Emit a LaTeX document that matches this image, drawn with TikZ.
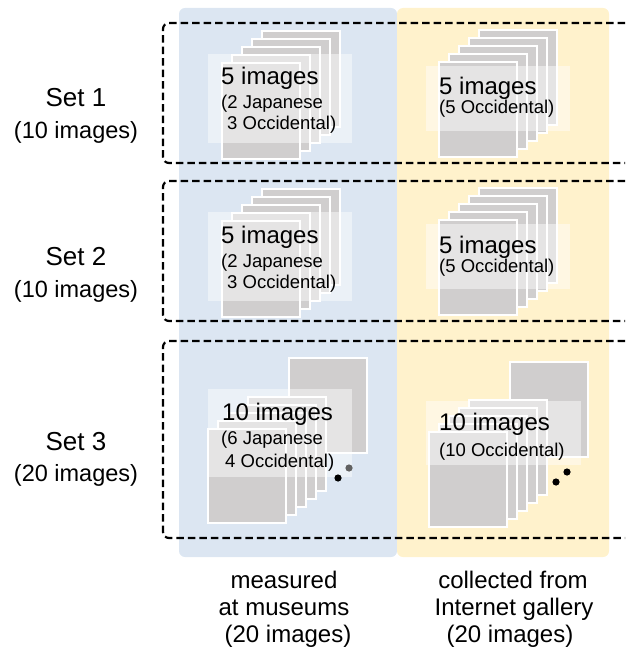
\documentclass[tikz,border=0pt]{standalone}
\usepackage{fontspec}
\setmainfont{Liberation Sans}
\definecolor{colblue}{HTML}{DCE6F2}
\definecolor{colyellow}{HTML}{FFF2CC}
\definecolor{sheetgray}{HTML}{D0CECE}
\tikzset{
  sheet/.style={fill=sheetgray, draw=white, line width=1.4pt},
  veil/.style={fill=white, fill opacity=0.45, draw=none},
  setbox/.style={draw=black, line width=2.2pt, dash pattern=on 7.5pt off 4pt, rounded corners=6pt},
  big/.style={font=\fontsize{24}{28}\selectfont, anchor=base west, inner sep=0pt},
  small/.style={font=\fontsize{18.5}{22}\selectfont, anchor=base west, inner sep=0pt},
  setlab/.style={font=\fontsize{26}{30}\selectfont, anchor=base, inner sep=0pt},
  setsub/.style={font=\fontsize{23.5}{28}\selectfont, anchor=base, inner sep=0pt},
  foot/.style={font=\fontsize{24}{28}\selectfont, anchor=base, inner sep=0pt},
  dot/.style={fill=black, draw=none}
}
\newcommand\sheetstack[4]{% x y n height
  \foreach \k in {#3,...,0} {
    \draw[sheet] ({#1+10*\k},{#2-8*\k}) rectangle ++(78,#4);
  }
}
\begin{document}
\begin{tikzpicture}[x=1pt,y=-1pt]
\useasboundingbox (0,0) rectangle (625,652);
% columns
\fill[colblue, rounded corners=6pt] (179,8) rectangle (397,557);
\fill[colyellow, rounded corners=6pt] (397,8) rectangle (609,557);
% dashed set boxes
\draw[setbox] (625,23) -- (163,23) -- (163,163) -- (625,163);
\draw[setbox] (625,181) -- (163,181) -- (163,321) -- (625,321);
\draw[setbox] (625,341) -- (163,341) -- (163,538) -- (625,538);
% ---- Set 1 and Set 2
\foreach \dy/\nm in {0/a,158/b} {
  \sheetstack{222}{63+\dy}{4}{96}
  \fill[veil] (208,54+\dy) rectangle (352,143+\dy);
  \sheetstack{439}{62+\dy}{4}{95}
  \fill[veil] (426,66+\dy) rectangle (570,131+\dy);
}
\node[big] (l1a) at (221,85) {5 images};
\node[small] (l1b) at (221,109) {(2 Japanese};
\node[small] (l1c) at (227,130) {3 Occidental)};
\node[big] (r1a) at (439,95) {5 images};
\node[small] (r1b) at (439,114) {(5 Occidental)};
\node[big] (l2a) at (221,243) {5 images};
\node[small] (l2b) at (221,267) {(2 Japanese};
\node[small] (l2c) at (227,288) {3 Occidental)};
\node[big] (r2a) at (439,253) {5 images};
\node[small] (r2b) at (439,272) {(5 Occidental)};
% ---- Set 3
\draw[sheet] (289,358) rectangle (367,453);
\sheetstack{208}{429}{4}{94}
\fill[veil] (208,389) rectangle (352,477);
\draw[sheet] (510,362) rectangle (588,457);
\sheetstack{429}{432}{4}{95}
\fill[veil] (426,401) rectangle (581,465);
\fill[black!62] (349,468) circle (3.6pt);
\fill[dot] (338,478) circle (3.6pt);
\fill[dot] (567,472) circle (3.6pt);
\fill[dot] (556,482) circle (3.6pt);
\node[big] (l3a) at (222,420) {10 images};
\node[small] (l3b) at (221,444) {(6 Japanese};
\node[small] (l3c) at (225,467) {4 Occidental)};
\node[big] (r3a) at (439,430) {10 images};
\node[small] (r3b) at (439,456) {(10 Occidental)};
% ---- set labels
\node[setlab] (s1) at (76,107) {Set 1};
\node[setsub] (s1n) at (76,139) {(10 images)};
\node[setlab] (s2) at (76,265) {Set 2};
\node[setsub] (s2n) at (76,297) {(10 images)};
\node[setlab] (s3) at (76,450) {Set 3};
\node[setsub] (s3n) at (76,481) {(20 images)};
% ---- footers
\node[foot] (f1) at (284,588) {measured};
\node[foot] (f2) at (284,615) {at museums};
\node[foot] (f3) at (288,642) {(20 images)};
\node[foot] (g1) at (513,588) {collected from};
\node[foot] (g2) at (514,615) {Internet gallery};
\node[foot] (g3) at (510,642) {(20 images)};
\end{tikzpicture}
\end{document}
